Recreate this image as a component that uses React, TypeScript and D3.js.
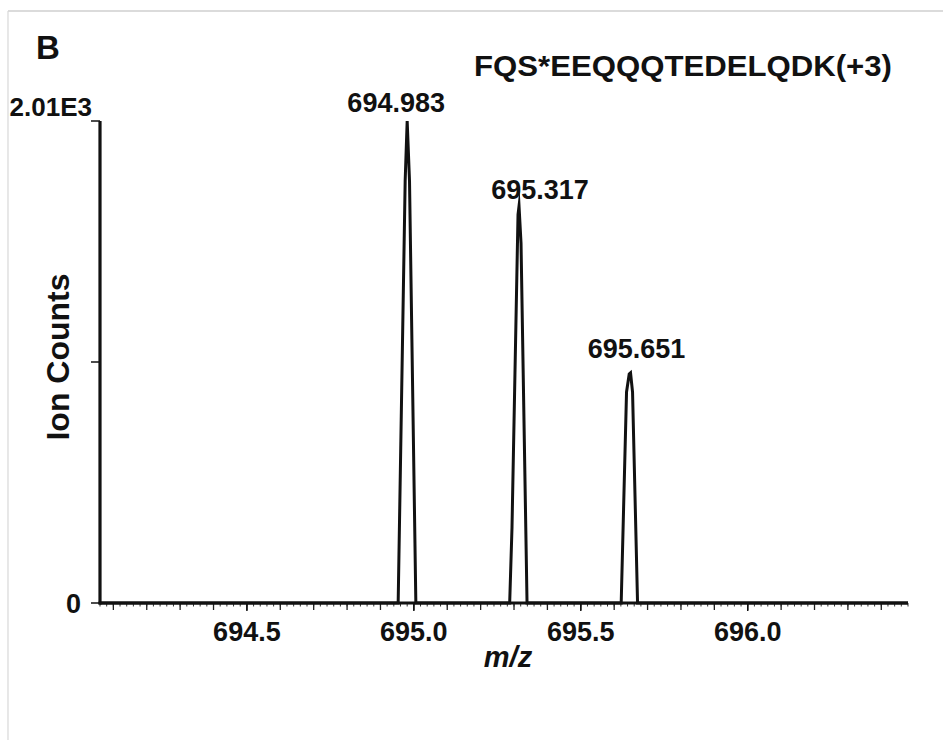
import React from "react";
import * as d3 from "d3";

// Profile data (m/z, ion counts)
const mzValues = [694.06, 694.953, 694.974, 694.98, 694.987, 695.006, 695.287, 695.294, 695.312, 695.315, 695.321, 695.339, 695.621, 695.637, 695.645, 695.649, 695.655, 695.67, 696.48];
const intensities = [0, 0, 1760, 2010, 1760, 0, 0, 317, 1620, 1655, 1500, 0, 0, 880, 955, 960, 880, 0, 0];

const peakMz = [694.98, 695.315, 695.649];
const peakIntensity = [2010, 1655, 960];
const peakLabels = ["694.983", "695.317", "695.651"];
const peakLabelDx = [-11, 21, 6];
const peakLabelDy = [-9, -7, -15];

const xTickValues = [694.5, 695.0, 695.5, 696.0];
const yTickValues = [0, 1005, 2010];
const xDomain = [694.06, 696.48];
const yDomain = [0, 2010];

const title = "FQS*EEQQQTEDELQDK(+3)";
const panel = "B";
const yTopLabel = "2.01E3";
const yZeroLabel = "0";
const xAxisTitle = "m/z";
const yAxisTitle = "Ion Counts";

const FONT = "'Liberation Sans', Arial, Helvetica, sans-serif";

export default function App() {
  const W = 943, H = 740;
  const x = d3.scaleLinear().domain(xDomain).range([100, 908]);
  const y = d3.scaleLinear().domain(yDomain).range([603, 121]);

  const line = d3.line<number>()
    .x((_, i) => x(mzValues[i]))
    .y((d) => y(d));
  const path = line(intensities) || "";

  const midTicks = d3.range(Math.ceil(xDomain[0] * 10), Math.floor(xDomain[1] * 10) + 1).map((v) => v / 10);
  const minorTicks = d3.range(Math.ceil(xDomain[0] * 50), Math.floor(xDomain[1] * 50) + 1).map((v) => v / 50);

  const x0 = x(xDomain[0]);
  const x1 = x(xDomain[1]);
  const y0 = y(0);

  return (
    <svg width={W} height={H} style={{ position: "absolute", left: 0, top: 0, background: "#fff" }} fontFamily={FONT}>
      <rect x={0} y={0} width={W} height={H} fill="#fff" />
      {/* frame */}
      <line x1={8} y1={11} x2={W} y2={11} stroke="#cfcfcf" strokeWidth={1.5} />
      <line x1={8} y1={11} x2={8} y2={H} stroke="#d8d8d8" strokeWidth={1.2} />

      <text x={36} y={59} fontSize={33} fontWeight="bold" fill="#111">{panel}</text>
      <text x={474} y={76} fontSize={30} fontWeight="bold" fill="#111" textLength={418} lengthAdjust="spacingAndGlyphs">{title}</text>

      {/* minor x ticks */}
      {minorTicks.map((t, i) => (
        <line key={"m" + i} x1={x(t)} x2={x(t)} y1={y0} y2={y0 + 3.5} stroke="#333" strokeWidth={1} />
      ))}
      {midTicks.map((t, i) => (
        <line key={"t" + i} x1={x(t)} x2={x(t)} y1={y0} y2={y0 + 7} stroke="#222" strokeWidth={1.3} />
      ))}
      {xTickValues.map((t, i) => (
        <g key={"x" + i}>
          <line x1={x(t)} x2={x(t)} y1={y0} y2={y0 + 8} stroke="#111" strokeWidth={1.5} />
          <text x={x(t)} y={641} fontSize={27} fontWeight="bold" textAnchor="middle" fill="#111">{t.toFixed(1)}</text>
        </g>
      ))}

      {/* y ticks */}
      {yTickValues.map((t, i) => (
        <line key={"y" + i} x1={91} x2={x0} y1={y(t)} y2={y(t)} stroke="#111" strokeWidth={1.5} />
      ))}
      <text x={81} y={y(0) + 10} fontSize={27} fontWeight="bold" textAnchor="end" fill="#111">{yZeroLabel}</text>
      <text x={92} y={116} fontSize={26} fontWeight="bold" textAnchor="end" fill="#111">{yTopLabel}</text>

      {/* axes */}
      <line x1={x0} x2={x0} y1={y(yDomain[1])} y2={y0 + 1.5} stroke="#111" strokeWidth={3.2} />
      <line x1={x0 - 1.5} x2={x1} y1={y0} y2={y0} stroke="#111" strokeWidth={3.2} />

      {/* spectrum */}
      <path d={path} fill="none" stroke="#111" strokeWidth={3} strokeLinejoin="miter" strokeMiterlimit={20} />

      {/* peak labels */}
      {peakLabels.map((lab, i) => (
        <text key={"p" + i} x={x(peakMz[i]) + peakLabelDx[i]} y={y(peakIntensity[i]) + peakLabelDy[i]} fontSize={27} fontWeight="bold" textAnchor="middle" fill="#111">{lab}</text>
      ))}

      {/* axis titles */}
      <text x={508} y={667} fontSize={29} fontWeight="bold" fontStyle="italic" textAnchor="middle" fill="#111">{xAxisTitle}</text>
      <text transform="translate(69,357) rotate(-90)" fontSize={32} fontWeight="bold" textAnchor="middle" fill="#111">{yAxisTitle}</text>
    </svg>
  );
}
